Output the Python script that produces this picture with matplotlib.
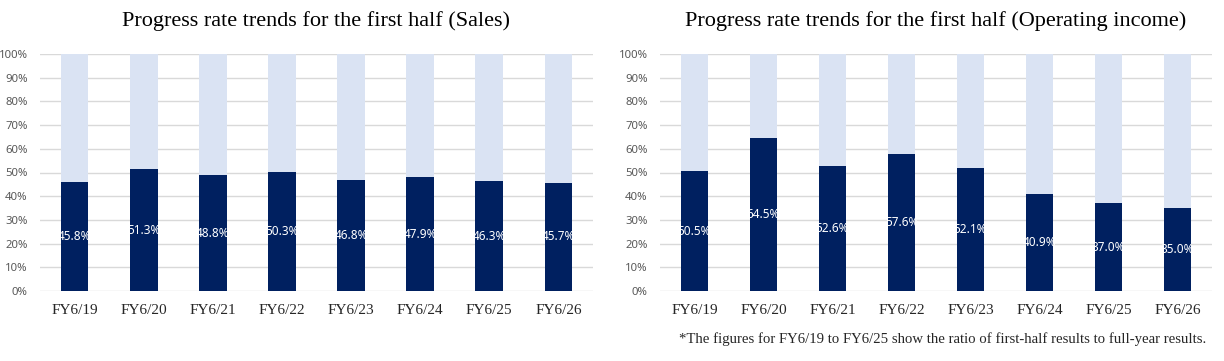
import numpy as np
import matplotlib
matplotlib.use("Agg")
import matplotlib.pyplot as plt

years = ["FY6/19", "FY6/20", "FY6/21", "FY6/22", "FY6/23", "FY6/24", "FY6/25", "FY6/26"]
sales = [45.8, 51.3, 48.8, 50.3, 46.8, 47.9, 46.3, 45.7]
op_income = [50.5, 64.5, 52.6, 57.6, 52.1, 40.9, 37.0, 35.0]

titles = ["Progress rate trends for the first half (Sales)",
          "Progress rate trends for the first half (Operating income)"]
note = "*The figures for FY6/19 to FY6/25 show the ratio of first-half results to full-year results."

dark = "#002060"
light = "#DAE3F3"
grid = "#D9D9D9"

fig = plt.figure(figsize=(12.24, 3.61), dpi=100)
ax1 = fig.add_axes([40 / 1224, 1 - 291 / 361, 553 / 1224, 237 / 361])
ax2 = fig.add_axes([660 / 1224, 1 - 291 / 361, 552 / 1224, 237 / 361])

x = np.arange(len(years))
for ax, vals, title in [(ax1, sales, titles[0]), (ax2, op_income, titles[1])]:
    vals = np.array(vals)
    ax.bar(x, vals, width=0.4, color=dark, zorder=3)
    ax.bar(x, 100 - vals, bottom=vals, width=0.4, color=light, zorder=3)
    for xi, v in zip(x, vals):
        ax.text(xi, v / 2, f"{v:.1f}%", ha="center", va="center",
                color="white", fontsize=8.5, family="Noto Sans", zorder=4)
    ax.set_xlim(-0.5, len(years) - 0.5)
    ax.set_ylim(0, 100)
    ax.set_yticks(range(0, 101, 10))
    ax.set_yticklabels([f"{t}%" for t in range(0, 101, 10)],
                       fontsize=8.2, color="#595959", family="Noto Sans")
    ax.set_xticks(x)
    ax.set_xticklabels(years, fontsize=11, family="Liberation Serif", color="#262626")
    ax.tick_params(length=0, pad=9)
    ax.tick_params(axis="y", pad=9)
    ax.grid(axis="y", color=grid, linewidth=1, zorder=0)
    for s in ax.spines.values():
        s.set_visible(False)
    ax.set_title(title, fontsize=16, family="Liberation Serif", pad=20)

fig.text(1206 / 1224, 1 - 339 / 361, note, ha="right", va="center",
         fontsize=10.6, family="Liberation Serif", color="#262626")

fig.savefig("out.png", dpi=100)
